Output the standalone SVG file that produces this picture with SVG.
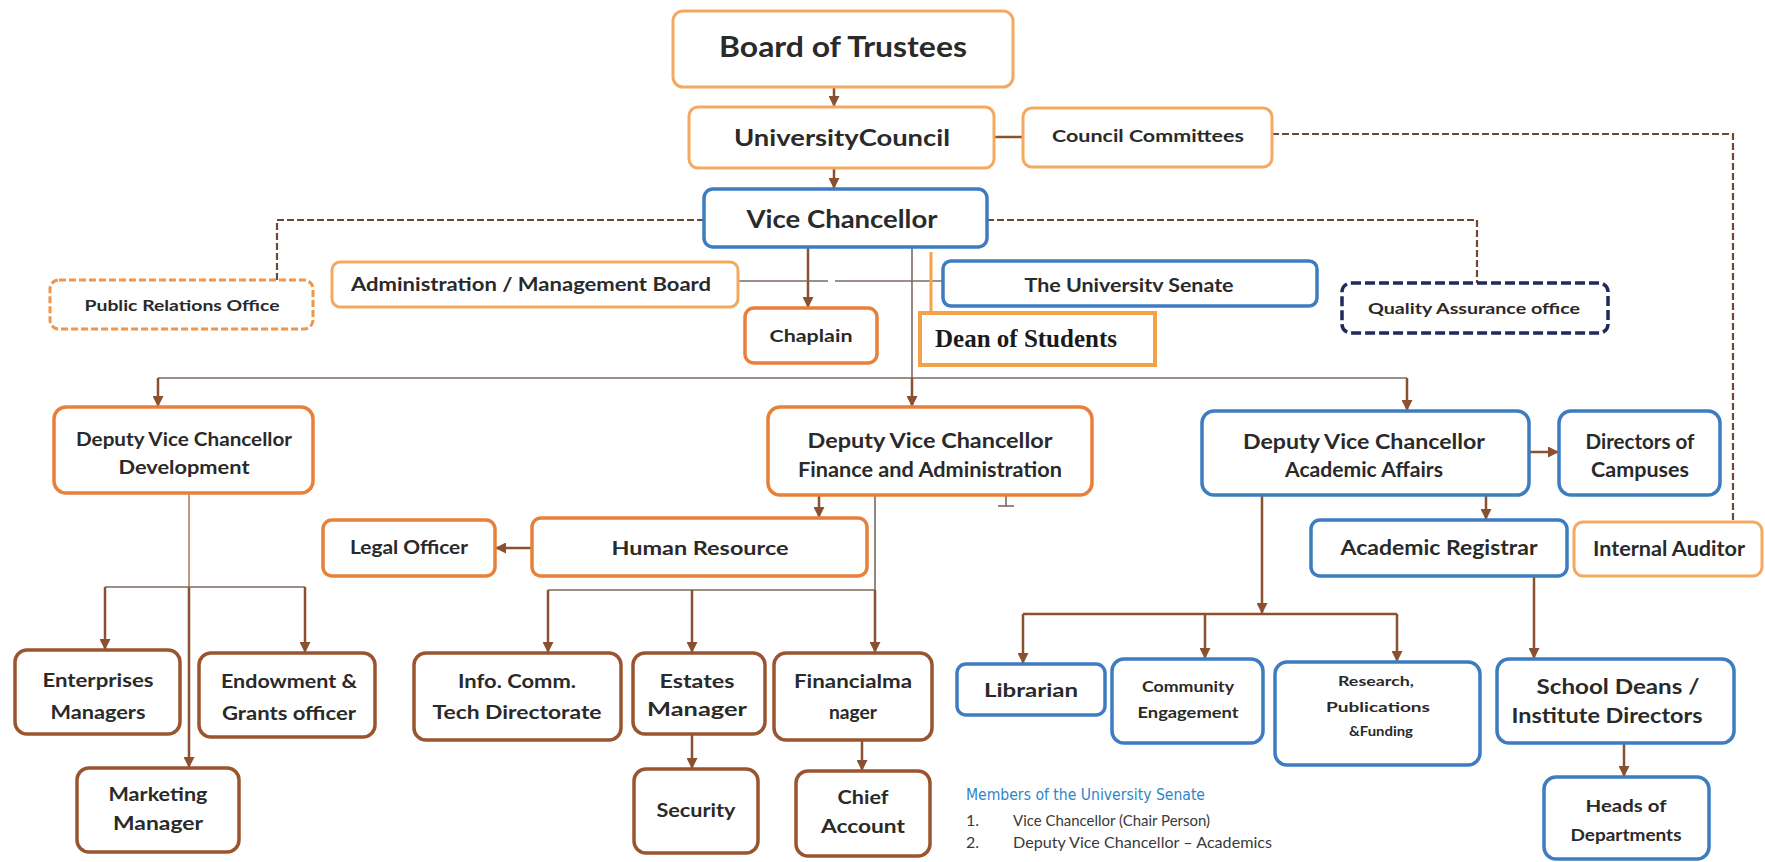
<svg xmlns="http://www.w3.org/2000/svg" width="1765" height="862" viewBox="0 0 1765 862">
<defs>
<marker id="ah" viewBox="0 0 10 10" refX="10" refY="5" markerWidth="11" markerHeight="11" markerUnits="userSpaceOnUse" orient="auto">
<path d="M0,0 L10,5 L0,10 z" fill="#8a5030"/>
</marker>
</defs>
<style>
.o1{fill:#fff;stroke:#f5a860;stroke-width:3}
.o2{fill:#fff;stroke:#e8803a;stroke-width:3.5}
.br{fill:#fff;stroke:#9a5530;stroke-width:3.5}
.bl{fill:#fff;stroke:#3e7cc2;stroke-width:3.5}
.t{font-family:Lato,'Open Sans','Liberation Sans',sans-serif;font-weight:700;fill:#2a2a2a;text-anchor:middle}
.c{fill:none;stroke:#8a5030;stroke-width:2.5}
.ct{fill:none;stroke:#7a6a60;stroke-width:1.6}
.d{fill:none;stroke:#6a4a35;stroke-width:2.2;stroke-dasharray:7 3}
.m{font-family:Lato,'Liberation Sans',sans-serif;fill:#3a3a3a}
</style>
<rect width="1765" height="862" fill="#fff"/>

<g id="connectors">
<line class="c" x1="834" y1="87" x2="834" y2="107" marker-end="url(#ah)"/>
<line class="c" x1="834" y1="168" x2="834" y2="189" marker-end="url(#ah)"/>
<line class="c" x1="994" y1="137" x2="1023" y2="137"/>
<polyline class="d" points="1272,134 1733,134 1733,522"/>
<polyline class="d" points="704,220 277,220 277,280"/>
<polyline class="d" points="987,220 1477,220 1477,283"/>
<line class="c" x1="808" y1="247" x2="808" y2="308" stroke-width="3.5" marker-end="url(#ah)"/>
<line class="ct" x1="738" y1="281" x2="828" y2="281"/>
<line class="ct" x1="835" y1="281" x2="943" y2="281"/>
<line class="ct" x1="912" y1="247" x2="912" y2="378"/>
<line stroke="#f4a24a" stroke-width="3" x1="931" y1="252" x2="931" y2="313"/>
<line class="ct" x1="158" y1="378" x2="1407" y2="378" stroke="#8a6a55" stroke-width="2"/>
<line class="c" x1="158" y1="378" x2="158" y2="407" marker-end="url(#ah)"/>
<line class="c" x1="912" y1="378" x2="912" y2="407" marker-end="url(#ah)"/>
<line class="c" x1="1407" y1="378" x2="1407" y2="411" marker-end="url(#ah)"/>
<line class="c" x1="819" y1="495" x2="819" y2="518" marker-end="url(#ah)"/>
<line class="c" x1="532" y1="548" x2="495" y2="548" marker-end="url(#ah)"/>
<line class="ct" x1="875" y1="495" x2="875" y2="590"/>
<line class="c" x1="875" y1="590" x2="875" y2="653" marker-end="url(#ah)"/>
<line class="ct" x1="548" y1="590" x2="875" y2="590" stroke-width="2"/>
<line class="c" x1="548" y1="590" x2="548" y2="653" stroke-width="2" marker-end="url(#ah)"/>
<line class="c" x1="692" y1="590" x2="692" y2="653" marker-end="url(#ah)"/>
<line class="ct" x1="1006" y1="496" x2="1006" y2="506"/>
<line class="ct" x1="998" y1="506" x2="1014" y2="506"/>
<line stroke="#c09a80" stroke-width="2" x1="189" y1="493" x2="189" y2="587"/>
<line class="c" x1="189" y1="587" x2="189" y2="768" stroke-width="2" marker-end="url(#ah)"/>
<line class="ct" x1="105" y1="587" x2="305" y2="587" stroke-width="2"/>
<line class="c" x1="105" y1="587" x2="105" y2="650" stroke-width="2" marker-end="url(#ah)"/>
<line class="c" x1="305" y1="587" x2="305" y2="653" stroke-width="2" marker-end="url(#ah)"/>
<line class="c" x1="692" y1="734" x2="692" y2="769" marker-end="url(#ah)"/>
<line class="c" x1="862" y1="740" x2="862" y2="771" marker-end="url(#ah)"/>
<line class="c" x1="1529" y1="452" x2="1559" y2="452" marker-end="url(#ah)"/>
<line class="c" x1="1486" y1="495" x2="1486" y2="520" marker-end="url(#ah)"/>
<line class="c" x1="1262" y1="495" x2="1262" y2="614" stroke-width="3.5" marker-end="url(#ah)"/>
<line class="c" x1="1023" y1="614" x2="1397" y2="614" stroke-width="2"/>
<line class="c" x1="1023" y1="614" x2="1023" y2="664" marker-end="url(#ah)"/>
<line class="c" x1="1205" y1="614" x2="1205" y2="659" marker-end="url(#ah)"/>
<line class="c" x1="1397" y1="614" x2="1397" y2="662" marker-end="url(#ah)"/>
<line class="c" x1="1534" y1="576" x2="1534" y2="659" stroke-width="3" marker-end="url(#ah)"/>
<line class="c" x1="1624" y1="743" x2="1624" y2="777" stroke-width="3" marker-end="url(#ah)"/>
</g>

<g id="board"><rect class="o1" x="673" y="11" width="340" height="76" rx="10"/><text class="t" x="843" y="57" font-size="28" textLength="248" lengthAdjust="spacingAndGlyphs">Board of Trustees</text></g>
<g id="council"><rect class="o1" x="689" y="107" width="305" height="61" rx="9"/><text class="t" x="842" y="146" font-size="22" textLength="216" lengthAdjust="spacingAndGlyphs">UniversityCouncil</text></g>
<g id="committees"><rect class="o1" x="1023" y="108" width="249" height="59" rx="9"/><text class="t" x="1148" y="142" font-size="17" textLength="192" lengthAdjust="spacingAndGlyphs">Council Committees</text></g>
<g id="vc"><rect class="bl" x="704" y="189" width="283" height="58" rx="9"/><text class="t" x="842" y="228" font-size="25" textLength="191" lengthAdjust="spacingAndGlyphs">Vice Chancellor</text></g>
<g id="pr"><rect x="50" y="280" width="263" height="49" rx="9" fill="#fff" stroke="#f0964a" stroke-width="3" stroke-dasharray="7 3"/><text class="t" x="182" y="311" font-size="16" textLength="195" lengthAdjust="spacingAndGlyphs">Public Relations Office</text></g>
<g id="admin"><rect class="o1" x="332" y="262" width="406" height="45" rx="8"/><text class="t" x="531" y="291" font-size="19" textLength="360" lengthAdjust="spacingAndGlyphs">Administration / Management Board</text></g>
<g id="senate"><rect class="bl" x="943" y="261" width="374" height="45" rx="8"/><text class="t" x="1129" y="292" font-size="19" textLength="209" lengthAdjust="spacingAndGlyphs">The Universitv Senate</text></g>
<g id="qa"><rect x="1342" y="283" width="266" height="50" rx="9" fill="#fff" stroke="#1f2a5a" stroke-width="3.5" stroke-dasharray="10 4"/><text class="t" x="1474" y="314" font-size="16" textLength="212" lengthAdjust="spacingAndGlyphs">Quality Assurance office</text></g>
<g id="chaplain"><rect class="o2" x="745" y="308" width="132" height="55" rx="9"/><text class="t" x="811" y="342" font-size="17" textLength="83" lengthAdjust="spacingAndGlyphs">Chaplain</text></g>
<g id="dean"><rect x="920" y="313" width="235" height="52" fill="#fff" stroke="#f4a24a" stroke-width="4"/><text x="935" y="347" font-family="'Liberation Serif','DejaVu Serif',serif" font-weight="700" font-size="25" fill="#1a1a1a">Dean of Students</text></g>

<g id="dvc-dev"><rect class="o2" x="54" y="407" width="259" height="86" rx="12"/><text class="t" x="184" y="446" font-size="19" textLength="216" lengthAdjust="spacingAndGlyphs">Deputy Vice Chancellor</text><text class="t" x="184" y="474" font-size="19" textLength="131" lengthAdjust="spacingAndGlyphs">Development</text></g>
<g id="dvc-fin"><rect class="o2" x="768" y="407" width="324" height="88" rx="12"/><text class="t" x="930" y="448" font-size="20" textLength="245" lengthAdjust="spacingAndGlyphs">Deputy Vice Chancellor</text><text class="t" x="930" y="477" font-size="20" textLength="264" lengthAdjust="spacingAndGlyphs">Finance and Administration</text></g>
<g id="dvc-acad"><rect class="bl" x="1202" y="411" width="327" height="84" rx="12"/><text class="t" x="1364" y="449" font-size="20" textLength="242" lengthAdjust="spacingAndGlyphs">Deputy Vice Chancellor</text><text class="t" x="1364" y="477" font-size="20" textLength="158" lengthAdjust="spacingAndGlyphs">Academic Affairs</text></g>
<g id="directors"><rect class="bl" x="1559" y="411" width="161" height="84" rx="12"/><text class="t" x="1640" y="449" font-size="20" textLength="109" lengthAdjust="spacingAndGlyphs">Directors of</text><text class="t" x="1640" y="477" font-size="20" textLength="98" lengthAdjust="spacingAndGlyphs">Campuses</text></g>
<g id="registrar"><rect class="bl" x="1311" y="520" width="256" height="56" rx="9"/><text class="t" x="1439" y="555" font-size="20" textLength="197" lengthAdjust="spacingAndGlyphs">Academic Registrar</text></g>
<g id="auditor"><rect class="o1" x="1574" y="522" width="188" height="54" rx="9"/><text class="t" x="1669" y="556" font-size="20" textLength="152" lengthAdjust="spacingAndGlyphs">Internal Auditor</text></g>
<g id="hr"><rect class="o2" x="532" y="518" width="335" height="58" rx="9"/><text class="t" x="700" y="555" font-size="19" textLength="177" lengthAdjust="spacingAndGlyphs">Human Resource</text></g>
<g id="legal"><rect class="o2" x="323" y="520" width="172" height="56" rx="9"/><text class="t" x="409" y="554" font-size="18" textLength="118" lengthAdjust="spacingAndGlyphs">Legal Officer</text></g>

<g id="enterprises"><rect class="br" x="15" y="650" width="165" height="84" rx="12"/><text class="t" x="98" y="687" font-size="18" textLength="111" lengthAdjust="spacingAndGlyphs">Enterprises</text><text class="t" x="98" y="719" font-size="18" textLength="95" lengthAdjust="spacingAndGlyphs">Managers</text></g>
<g id="endowment"><rect class="br" x="199" y="653" width="176" height="84" rx="12"/><text class="t" x="289" y="688" font-size="18" textLength="136" lengthAdjust="spacingAndGlyphs">Endowment &amp;</text><text class="t" x="289" y="720" font-size="18" textLength="134" lengthAdjust="spacingAndGlyphs">Grants officer</text></g>
<g id="marketing"><rect class="br" x="77" y="768" width="162" height="84" rx="12"/><text class="t" x="158" y="801" font-size="18" textLength="99" lengthAdjust="spacingAndGlyphs">Marketing</text><text class="t" x="158" y="830" font-size="18" textLength="90" lengthAdjust="spacingAndGlyphs">Manager</text></g>
<g id="ict"><rect class="br" x="414" y="653" width="207" height="87" rx="12"/><text class="t" x="517" y="688" font-size="18" textLength="118" lengthAdjust="spacingAndGlyphs">Info. Comm.</text><text class="t" x="517" y="719" font-size="18" textLength="169" lengthAdjust="spacingAndGlyphs">Tech Directorate</text></g>
<g id="estates"><rect class="br" x="633" y="653" width="132" height="81" rx="12"/><text class="t" x="697" y="688" font-size="18" textLength="75" lengthAdjust="spacingAndGlyphs">Estates</text><text class="t" x="697" y="716" font-size="18" textLength="100" lengthAdjust="spacingAndGlyphs">Manager</text></g>
<g id="financial"><rect class="br" x="774" y="653" width="158" height="87" rx="12"/><text class="t" x="853" y="688" font-size="18" textLength="118" lengthAdjust="spacingAndGlyphs">Financialma</text><text class="t" x="853" y="719" font-size="18" textLength="48" lengthAdjust="spacingAndGlyphs">nager</text></g>
<g id="security"><rect class="br" x="634" y="769" width="124" height="84" rx="12"/><text class="t" x="696" y="817" font-size="18" textLength="79" lengthAdjust="spacingAndGlyphs">Security</text></g>
<g id="chief"><rect class="br" x="796" y="771" width="134" height="85" rx="12"/><text class="t" x="863" y="804" font-size="18" textLength="51" lengthAdjust="spacingAndGlyphs">Chief</text><text class="t" x="863" y="833" font-size="18" textLength="84" lengthAdjust="spacingAndGlyphs">Account</text></g>

<g id="librarian"><rect class="bl" x="957" y="664" width="148" height="51" rx="9"/><text class="t" x="1031" y="697" font-size="18" textLength="94" lengthAdjust="spacingAndGlyphs">Librarian</text></g>
<g id="community"><rect class="bl" x="1112" y="659" width="151" height="84" rx="12"/><text class="t" x="1188" y="692" font-size="15" textLength="92" lengthAdjust="spacingAndGlyphs">Community</text><text class="t" x="1188" y="718" font-size="15" textLength="101" lengthAdjust="spacingAndGlyphs">Engagement</text></g>
<g id="research"><rect class="bl" x="1275" y="662" width="205" height="103" rx="12"/><text class="t" x="1376" y="686" font-size="14" textLength="76" lengthAdjust="spacingAndGlyphs">Research,</text><text class="t" x="1378" y="712" font-size="14" textLength="104" lengthAdjust="spacingAndGlyphs">Publications</text><text class="t" x="1381" y="736" font-size="14" textLength="64" lengthAdjust="spacingAndGlyphs">&amp;Funding</text></g>
<g id="deans"><rect class="bl" x="1497" y="659" width="237" height="84" rx="12"/><text class="t" x="1618" y="694" font-size="20" textLength="163" lengthAdjust="spacingAndGlyphs">School Deans /</text><text class="t" x="1607" y="723" font-size="20" textLength="191" lengthAdjust="spacingAndGlyphs">Institute Directors</text></g>
<g id="heads"><rect class="bl" x="1544" y="777" width="165" height="82" rx="12"/><text class="t" x="1626" y="812" font-size="17" textLength="81" lengthAdjust="spacingAndGlyphs">Heads of</text><text class="t" x="1626" y="841" font-size="17" textLength="111" lengthAdjust="spacingAndGlyphs">Departments</text></g>

<g id="senate-members">
<text x="966" y="800" font-family="'DejaVu Sans','Liberation Sans',sans-serif" font-size="16" fill="#2e86c8" textLength="239" lengthAdjust="spacingAndGlyphs">Members of the University Senate</text>
<text class="m" x="966" y="826" font-size="16">1.</text>
<text class="m" x="1013" y="826" font-size="16" textLength="197" lengthAdjust="spacingAndGlyphs">Vice Chancellor (Chair Person)</text>
<text class="m" x="966" y="848" font-size="16">2.</text>
<text class="m" x="1013" y="848" font-size="16" textLength="259" lengthAdjust="spacingAndGlyphs">Deputy Vice Chancellor – Academics</text>
</g>
</svg>
